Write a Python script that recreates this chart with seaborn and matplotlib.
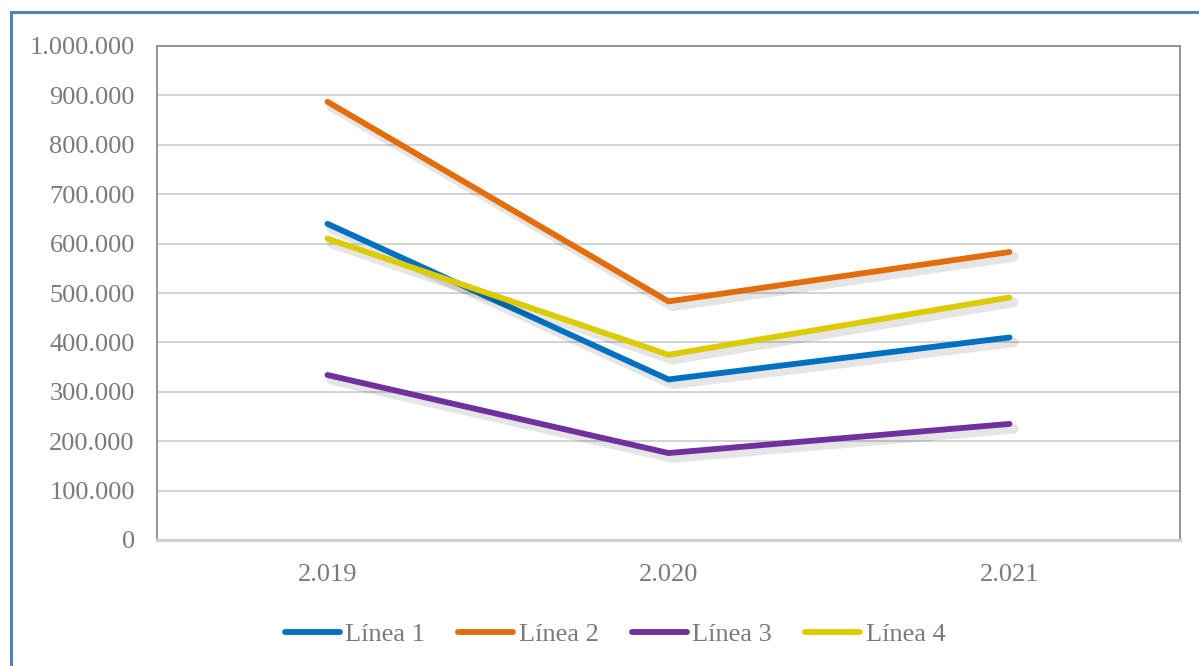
import matplotlib
matplotlib.use("Agg")
import matplotlib.pyplot as plt
import matplotlib.patheffects as pe
from matplotlib.ticker import FuncFormatter, MultipleLocator
from matplotlib.patches import Rectangle
from matplotlib.lines import Line2D
import seaborn as sns
import pandas as pd

years = ["2.019", "2.020", "2.021"]
series_names = ["Línea 1", "Línea 2", "Línea 3", "Línea 4"]
linea1 = [640000, 325000, 410000]
linea2 = [887000, 483000, 583000]
linea3 = [334000, 176000, 235000]
linea4 = [610000, 375000, 491000]
colors = ["#0070c0", "#e46c0a", "#7030a0", "#dccb00"]

rows = []
for name, vals in zip(series_names, [linea1, linea2, linea3, linea4]):
    for y, v in zip(years, vals):
        rows.append({"Año": y, "Valor": v, "Serie": name})
df = pd.DataFrame(rows)

sns.set_theme(style="white")
plt.rcParams["font.family"] = ["Liberation Serif", "DejaVu Serif"]

fig = plt.figure(figsize=(11.99, 6.66), dpi=100)
ax = fig.add_axes([157/1199, 1-540/666, (1180-157)/1199, (540-46)/666])

sns.lineplot(data=df, x="Año", y="Valor", hue="Serie", palette=colors,
             linewidth=4.2, ax=ax, sort=False, legend=False)
for line in ax.get_lines():
    line.set_solid_capstyle("round")
    line.set_solid_joinstyle("miter")
    line.set_path_effects([pe.SimpleLineShadow(offset=(3, -3.5), shadow_color="#000000", alpha=0.10, linewidth=7),
                           pe.Normal()])

ax.set_xlim(-0.5, 2.5)
ax.set_ylim(0, 1000000)
ax.yaxis.set_major_locator(MultipleLocator(100000))
ax.yaxis.set_major_formatter(FuncFormatter(lambda v, p: f"{v:,.0f}".replace(",", ".")))
ax.grid(axis="y", color="#c8c8c8", linewidth=1.1)
ax.set_axisbelow(True)
ax.set_xlabel("")
ax.set_ylabel("")
ax.tick_params(axis="both", length=0, labelsize=19, labelcolor="#7a7a7a")
ax.tick_params(axis="y", pad=16)
ax.tick_params(axis="x", pad=17)
for s in ["left", "top", "right"]:
    ax.spines[s].set_color("#8c8c8c")
    ax.spines[s].set_linewidth(1.3)
ax.spines["bottom"].set_color("#d0d0d0")
ax.spines["bottom"].set_linewidth(2.2)

handles = [Line2D([0], [0], color=c, linewidth=4.2, solid_capstyle="round") for c in colors]
fig.legend(handles, series_names, loc="center", bbox_to_anchor=(615/1199, 1-634/666),
           ncol=4, frameon=False, fontsize=19, labelcolor="#7a7a7a",
           handlelength=2.1, handletextpad=0.2, columnspacing=1.25)

# outer chart border
fig.patches.append(Rectangle((11/1199, -0.05), 1.1, 1-12/666+0.05,
                             transform=fig.transFigure, fill=False,
                             edgecolor="#4f81bd", linewidth=2.2, zorder=0))

fig.savefig("out.png", dpi=100)
